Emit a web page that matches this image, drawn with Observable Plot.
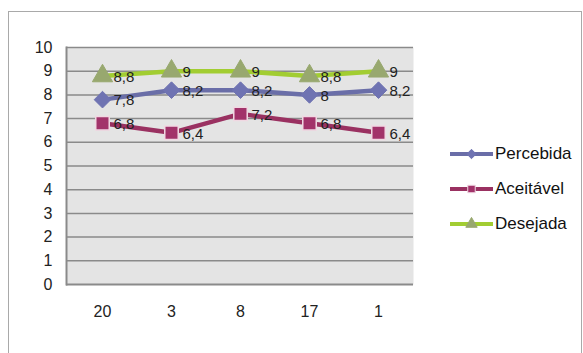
<!DOCTYPE html>
<html>
<head>
<meta charset="utf-8">
<script src="https://cdn.jsdelivr.net/npm/d3@7"></script>
<script src="https://cdn.jsdelivr.net/npm/@observablehq/plot@0.6"></script>
<style>
  html, body { margin: 0; padding: 0; background: #fff; }
  #wrap { position: relative; width: 583px; height: 353px; overflow: hidden; font-family: "Liberation Sans", Arial, sans-serif; }
  #border { position: absolute; left: 8px; top: 11px; width: 574px; height: 360px; border: 1.5px solid #a9a9a9; box-sizing: border-box; }
  #chart { position: absolute; left: 0; top: 0; }
  #legend { position: absolute; left: 448px; top: 136px; }
</style>
</head>
<body>
<div id="wrap">
  <div id="border"></div>
  <div id="chart"></div>
  <div id="legend"></div>
</div>
<script>
// Categories along the x axis
const categories = ["20", "3", "8", "17", "1"];

// Series values
const percebida = [7.8, 8.2, 8.2, 8, 8.2];
const aceitavel = [6.8, 6.4, 7.2, 6.8, 6.4];
const desejada  = [8.8, 9, 9, 8.8, 9];

// Y axis ticks
const yTicks = [0, 1, 2, 3, 4, 5, 6, 7, 8, 9, 10];

const seriesNames = ["Percebida", "Aceitável", "Desejada"];
const seriesValues = [percebida, aceitavel, desejada];

const styles = {
  "Percebida": {line: "#6a6ea8", fill: "#6f73b2", stroke: "#6f73b2", symbol: "diamond2", r: 7.5},
  "Aceitável": {line: "#9a3161", fill: "#a2336a", stroke: "#f0d8e2", symbol: "square", r: 7.6},
  "Desejada":  {line: "#a2cd32", fill: "#98a86f", stroke: "#98a86f", symbol: "triangle", r: 7.5}
};

const rows = seriesNames.flatMap((name, i) =>
  categories.map((c, j) => ({series: name, cat: c, value: seriesValues[i][j]}))
);

const fmt = v => String(v).replace(".", ",");

const marks = [
  Plot.frame({fill: "#e4e4e4", stroke: null}),
  Plot.ruleY(yTicks.filter(d => d > 0), {stroke: "#8a8a8a", strokeWidth: 1.5}),
  Plot.ruleY([0], {stroke: "#8a8a8a", strokeWidth: 2}),
  Plot.frame({anchor: "left", stroke: "#8a8a8a", strokeWidth: 2}),
  Plot.axisY(yTicks, {tickSize: 0, tickPadding: 14, fontSize: 16, fill: "#222", label: null}),
  Plot.axisX(categories, {tickSize: 0, tickPadding: 21, fontSize: 16, fill: "#222", label: null})
];

for (const name of seriesNames) {
  const s = styles[name];
  const data = rows.filter(d => d.series === name);
  marks.push(Plot.line(data, {x: "cat", y: "value", stroke: s.line, strokeWidth: 4.5}));
}
for (const name of seriesNames) {
  const s = styles[name];
  const data = rows.filter(d => d.series === name);
  marks.push(Plot.dot(data, {x: "cat", y: "value", symbol: () => s.symbol, r: s.r, fill: s.fill, stroke: s.stroke, strokeWidth: name === "Aceitável" ? 1.5 : 1}));
  marks.push(Plot.text(data, {x: "cat", y: "value", text: d => fmt(d.value), textAnchor: "start", dx: 11, dy: 1, fontSize: 15, fill: "#222"}));
}

const chart = Plot.plot({
  width: 583,
  height: 353,
  marginLeft: 66,
  marginRight: 170,
  marginTop: 47,
  marginBottom: 69,
  style: {fontFamily: "'Liberation Sans', Arial, sans-serif", background: "transparent"},
  x: {type: "point", domain: categories, padding: 0.5, axis: null},
  y: {domain: [0, 10], axis: null},
  symbol: {type: "identity"},
  marks
});
document.getElementById("chart").append(chart);

// Legend: a short line with the series marker, then the name
const legend = d3.select("#legend");
seriesNames.forEach((name, i) => {
  const s = styles[name];
  const row = legend.append("div")
    .style("display", "flex").style("align-items", "center")
    .style("height", "35px");
  const svg = row.append("svg").attr("width", 46).attr("height", 20);
  svg.append("line").attr("x1", 2).attr("x2", 45).attr("y1", 10).attr("y2", 10)
    .attr("stroke", s.line).attr("stroke-width", 4);
  const sym = {diamond2: d3.symbolDiamond2, square: d3.symbolSquare, triangle: d3.symbolTriangle}[s.symbol];
  svg.append("path").attr("transform", "translate(23.5,10)")
    .attr("d", d3.symbol(sym, 56)())
    .attr("fill", s.fill).attr("stroke", s.stroke).attr("stroke-width", 1);
  row.append("span").text(name)
    .style("font-size", "17px").style("color", "#111").style("margin-left", "1px");
});
</script>
</body>
</html>
